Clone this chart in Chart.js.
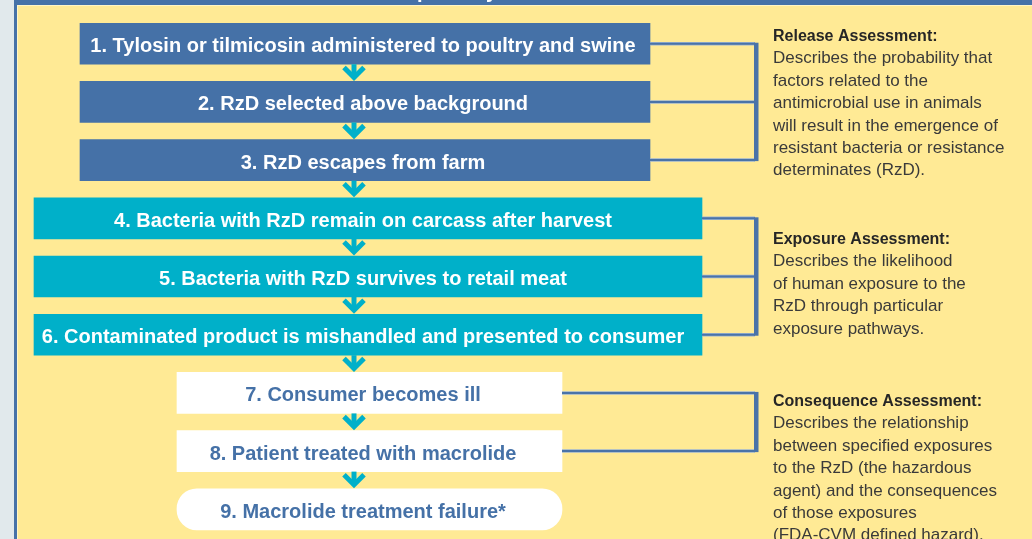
<!DOCTYPE html>
<html>
<head>
<meta charset="utf-8">
<script src="https://cdn.jsdelivr.net/npm/chart.js@4/dist/chart.umd.min.js"></script>
<style>
  html, body { margin: 0; padding: 0; background: #e1e9ec; overflow: hidden; }
  #wrap { width: 1032px; height: 539px; position: relative; }
  canvas { display: block; }
</style>
</head>
<body>
<div id="wrap"><canvas id="c" width="1032" height="539"></canvas></div>
<script>
// ---------------- data ----------------
const stepNumbers = [1, 2, 3, 4, 5, 6, 7, 8, 9];
const stepLabels = [
  '1. Tylosin or tilmicosin administered to poultry and swine',
  '2. RzD selected above background',
  '3. RzD escapes from farm',
  '4. Bacteria with RzD remain on carcass after harvest',
  '5. Bacteria with RzD survives to retail meat',
  '6. Contaminated product is mishandled and presented to consumer',
  '7. Consumer becomes ill',
  '8. Patient treated with macrolide',
  '9. Macrolide treatment failure*'
];
const stepStage = [0, 0, 0, 1, 1, 1, 2, 2, 2];
const stageNames = ['Release Assessment:', 'Exposure Assessment:', 'Consequence Assessment:'];
const bracketSteps = [[1, 2, 3], [4, 5, 6], [7, 8]];
const stageNotes = [
  ['Describes the probability that', 'factors related to the', 'antimicrobial use in animals',
   'will result in the emergence of', 'resistant bacteria or resistance', 'determinates (RzD).'],
  ['Describes the likelihood', 'of human exposure to the', 'RzD through particular', 'exposure pathways.'],
  ['Describes the relationship', 'between specified exposures', 'to the RzD (the hazardous',
   'agent) and the consequences', 'of those exposures', '(FDA-CVM defined hazard).']
];
const headerText = 'Risk pathway';

// ---------------- layout / style (not data) ----------------
const LAYOUT = {
  boxStart: [80, 34, 177],     // x-extent of boxes per stage on a 0..1032 page scale
  boxEnd: [650, 702, 562],
  labelX: 363,
  arrowX: 354,
  bracketX: 755,
  noteX: 773,
  noteY: [0.955, 4.44, 7.225], // first-line baseline, on the step scale
  noteLine: 22.4,
  barThickness: 41
};
const COLORS = {
  fill: ['#4571a7', '#00b0c9', '#ffffff'],
  text: ['#ffffff', '#ffffff', '#4571a7'],
  arrow: '#00b0c9',
  bracket: '#4a73a8',
  yellow: '#ffea95',
  grey: '#e1e9ec',
  frame: '#4672a8'
};
const FONT_BOX = 'bold 20px "Liberation Sans", Arial, sans-serif';
const FONT_NOTE_T = 'bold 16px "Liberation Sans", Arial, sans-serif';
const FONT_NOTE = '17px "Liberation Sans", Arial, sans-serif';

const datasets = stageNames.map((name, s) => ({
  label: name,
  data: stepNumbers.filter((n, i) => stepStage[i] === s)
                   .map(n => ({ x: [LAYOUT.boxStart[s], LAYOUT.boxEnd[s]], y: n })),
  backgroundColor: COLORS.fill[s],
  borderWidth: 0,
  borderSkipped: false,
  borderRadius: ctx => (ctx.raw && ctx.raw.y === stepNumbers[stepNumbers.length - 1]) ? 20 : 0,
  barThickness: LAYOUT.barThickness,
  grouped: false
}));

const flowPlugin = {
  id: 'flow',
  beforeDraw(chart) {
    const c = chart.ctx, W = chart.width, H = chart.height;
    c.save();
    c.fillStyle = COLORS.grey; c.fillRect(0, 0, W, H);
    c.fillStyle = COLORS.frame; c.fillRect(14, 0, W - 14, H);
    c.fillStyle = COLORS.yellow; c.fillRect(17, 5, W - 17, H - 5);
    c.fillStyle = '#fff6c6';
    c.fillRect(17, 5, W - 17, 1);
    c.fillRect(17, 5, 1, H - 5);
    // header title (mostly cropped above the picture)
    c.font = 'bold 20px "Liberation Sans", Arial, sans-serif';
    c.fillStyle = '#ffffff';
    c.textBaseline = 'alphabetic';
    c.textAlign = 'left';
    const pre = c.measureText('Risk ').width;
    c.fillText(headerText, 417 - pre, -2);
    c.restore();
  },
  afterDatasetsDraw(chart) {
    const c = chart.ctx;
    const xs = chart.scales.x, ys = chart.scales.y;
    const half = LAYOUT.barThickness / 2;
    c.save();
    // arrows between consecutive steps
    const ax = xs.getPixelForValue(LAYOUT.arrowX);
    c.strokeStyle = COLORS.arrow;
    c.lineWidth = 5;
    c.lineJoin = 'miter';
    c.lineCap = 'butt';
    for (let i = 0; i < stepNumbers.length - 1; i++) {
      const top = ys.getPixelForValue(stepNumbers[i]) + half;
      const bot = ys.getPixelForValue(stepNumbers[i + 1]) - half;
      const tip = bot - 4;
      c.beginPath(); c.moveTo(ax, top); c.lineTo(ax, tip - 1); c.stroke();
      c.beginPath(); c.moveTo(ax - 10, tip - 10); c.lineTo(ax, tip); c.lineTo(ax + 10, tip - 10); c.stroke();
    }
    // brackets
    const bx = xs.getPixelForValue(LAYOUT.bracketX);
    bracketSteps.forEach((steps, s) => {
      const x0 = xs.getPixelForValue(LAYOUT.boxEnd[s]);
      const yTop = ys.getPixelForValue(steps[0]);
      const yBot = ys.getPixelForValue(steps[steps.length - 1]);
      c.strokeStyle = '#9db4d2'; c.lineWidth = 3.5;
      steps.forEach(n => {
        const y = ys.getPixelForValue(n);
        c.beginPath(); c.moveTo(x0, y); c.lineTo(bx, y); c.stroke();
      });
      c.strokeStyle = COLORS.bracket; c.lineWidth = 2;
      steps.forEach(n => {
        const y = ys.getPixelForValue(n);
        c.beginPath(); c.moveTo(x0, y); c.lineTo(bx, y); c.stroke();
      });
      c.fillStyle = COLORS.bracket;
      c.fillRect(bx - 1, yTop - 1, 4.5, yBot - yTop + 2);
    });
    // box labels
    c.font = FONT_BOX;
    c.textAlign = 'center';
    c.textBaseline = 'alphabetic';
    stepNumbers.forEach((n, i) => {
      c.fillStyle = COLORS.text[stepStage[i]];
      c.fillText(stepLabels[i], xs.getPixelForValue(LAYOUT.labelX), ys.getPixelForValue(n) + 8.5);
    });
    // stage notes
    c.textAlign = 'left';
    const nx = xs.getPixelForValue(LAYOUT.noteX);
    stageNames.forEach((name, s) => {
      let y = ys.getPixelForValue(LAYOUT.noteY[s]);
      c.font = FONT_NOTE_T; c.fillStyle = '#262626';
      c.fillText(name, nx, y);
      c.font = FONT_NOTE; c.fillStyle = '#3a3a3a';
      stageNotes[s].forEach(line => { y += LAYOUT.noteLine; c.fillText(line, nx, y); });
    });
    c.restore();
  }
};

new Chart(document.getElementById('c'), {
  type: 'bar',
  data: { datasets },
  options: {
    indexAxis: 'y',
    responsive: false,
    animation: false,
    layout: { padding: 0 },
    plugins: { legend: { display: false }, tooltip: { enabled: false }, title: { display: false } },
    scales: {
      x: { type: 'linear', min: 0, max: 1032, display: false, offset: false, grace: 0 },
      y: { type: 'linear', reverse: true, min: 0.249, max: 9.51, display: false, offset: false, grace: 0 }
    }
  },
  plugins: [flowPlugin]
});
</script>
</body>
</html>
